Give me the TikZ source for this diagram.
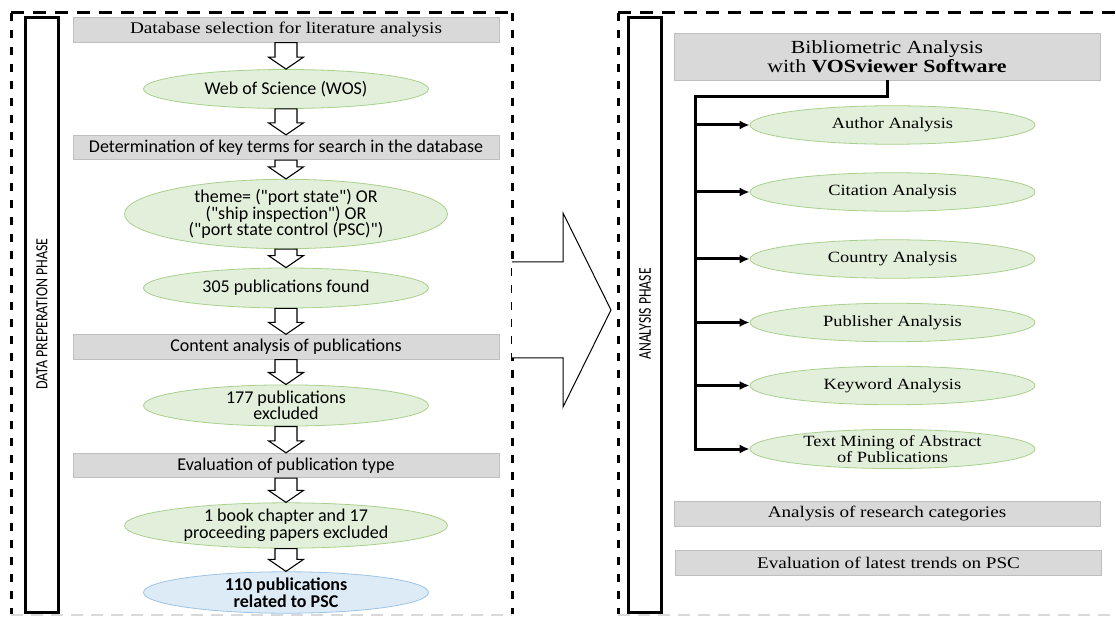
\documentclass[tikz,border=0pt]{standalone}
\usepackage{fontspec}
\setmainfont{Liberation Serif}
\newfontfamily\wideserif[FakeStretch=1.18]{Liberation Serif}
\newfontfamily\calibri{Carlito}
\usetikzlibrary{calc,arrows.meta,shapes.geometric}
\definecolor{boxfill}{HTML}{D9D9D9}
\definecolor{boxline}{HTML}{BFBFBF}
\definecolor{ellfill}{HTML}{E2EFDA}
\definecolor{ellline}{HTML}{A9D08E}
\definecolor{bluefill}{HTML}{DDEBF7}
\definecolor{blueline}{HTML}{9DC3E6}
\newcommand\blockarrow[2]{%
  \draw[blockarr] let \p1=(#1.south), \p2=(#2.north) in
    (\x1-11pt,\y1) -- (\x1+11pt,\y1) -- (\x1+11pt,\y2+12pt) -- (\x1+17.5pt,\y2+12pt)
    -- (\x1,\y2) -- (\x1-17.5pt,\y2+12pt) -- (\x1-11pt,\y2+12pt) -- cycle;}
\begin{document}
\begin{tikzpicture}[x=1pt,y=-1pt,
  graybox/.style={draw=boxline, fill=boxfill, line width=0.8pt, inner sep=0pt, align=center},
  lbox/.style={graybox, minimum width=426pt, minimum height=24.5pt},
  rbox/.style={graybox, minimum width=426pt, minimum height=25pt, font=\wideserif\fontsize{16.2}{18}\selectfont},
  lell/.style={ellipse, draw=ellline, fill=ellfill, line width=0.8pt, inner sep=0pt, align=center,
     font=\calibri\fontsize{18}{16.5}\selectfont},
  rell/.style={ellipse, draw=ellline, fill=ellfill, line width=0.8pt, inner sep=0pt, align=center,
     minimum width=285pt, minimum height=38.5pt, font=\wideserif\fontsize{15.6}{16.5}\selectfont},
  blockarr/.style={draw=black, fill=white, line width=1.1pt, line join=miter},
  hdash/.style={line width=3pt, dash pattern=on 13pt off 9pt},
  vdash/.style={line width=3pt, dash pattern=on 8pt off 9pt},
  bdash/.style={line width=2pt, draw=black!15, dash pattern=on 12pt off 8pt},
  phasebox/.style={draw=black, line width=3pt, fill=white},
  trunk/.style={draw=black, line width=3pt},
  branch/.style={draw=black, line width=3pt, -{Latex[length=10pt,width=9pt]}},
  bigarr/.style={draw=black, line width=1pt, fill=white, line join=miter}
]
\useasboundingbox (0,0) rectangle (1116,617);
% ---------- dashed panel frames ----------
\draw[hdash] (11,13) -- (512,13);
\draw[vdash] (11,13) -- (11,614);
\draw[vdash] (512,13) -- (512,614);
\draw[bdash] (11,614.5) -- (512,614.5);
\draw[hdash] (618,13) -- (1116,13);
\draw[vdash] (618,13) -- (618,614);
\draw[bdash] (618,614.5) -- (1116,614.5);
% ---------- big arrow between the panels ----------
\coordinate (pa1) at (512,262);
\coordinate (pa2) at (563,262);
\coordinate (pa3) at (563,213);
\coordinate (patip) at (611,310);
\coordinate (pa5) at (563,407);
\coordinate (pa6) at (563,358);
\coordinate (pa7) at (512,358);
\fill[white] (pa1) -- (pa2) -- (pa3) -- (patip) -- (pa5) -- (pa6) -- (pa7) -- cycle;
\draw[bigarr] (pa1) -- (pa2) -- (pa3) -- (patip) -- (pa5) -- (pa6) -- (pa7);
% ---------- phase label boxes ----------
\draw[phasebox] (25,18) rectangle (58,612);
\node[rotate=90] (lphase) at (42,314) {\scalebox{0.82}[1]{\calibri\fontsize{17}{17}\selectfont DATA PREPERATION PHASE}};
\draw[phasebox] (628,18) rectangle (661,612);
\node[rotate=90] (rphase) at (645,314) {\scalebox{0.76}[1]{\calibri\fontsize{18}{18}\selectfont ANALYSIS PHASE}};
% ---------- left panel ----------
\node[lbox, font=\wideserif\fontsize{16.3}{20}\selectfont] (db) at (286,30) {Database selection for literature analysis};
\node[lell, minimum width=285pt, minimum height=39pt] (wos) at (286,89) {Web of Science (WOS)};
\node[lbox, font=\calibri\fontsize{18}{18}\selectfont] (kt) at (286,147.5) {Determination of key terms for search in the database};
\node[lell, minimum width=323pt, minimum height=52pt] (theme) at (286,214) {theme= ("port state") OR\\("ship inspection") OR\\("port state control (PSC)")};
\node[lell, minimum width=285pt, minimum height=40pt] (found) at (286,288) {305 publications found};
\node[lbox, font=\calibri\fontsize{18}{18}\selectfont] (ca) at (286,347) {Content analysis of publications};
\node[lell, minimum width=285pt, minimum height=39pt] (exc) at (286,405.5) {177 publications\\excluded};
\node[lbox, font=\calibri\fontsize{18}{18}\selectfont] (ev) at (286,465.5) {Evaluation of publication type};
\node[lell, minimum width=323pt, minimum height=39pt] (book) at (286,525.5) {1 book chapter and 17\\proceeding papers excluded};
\node[lell, draw=blueline, fill=bluefill, minimum width=285pt, minimum height=39pt,
      font=\calibri\bfseries\fontsize{18}{16.5}\selectfont] (psc) at (286,592.5) {110 publications\\related to PSC};
\blockarrow{db}{wos}
\blockarrow{wos}{kt}
\blockarrow{kt}{theme}
\blockarrow{theme}{found}
\blockarrow{found}{ca}
\blockarrow{ca}{exc}
\blockarrow{exc}{ev}
\blockarrow{ev}{book}
\blockarrow{book}{psc}
% ---------- right panel ----------
\node[graybox, minimum width=426pt, minimum height=47pt, font=\wideserif\fontsize{18.5}{19}\selectfont] (bib) at (887,56.5)
  {Bibliometric Analysis\\with \textbf{VOSviewer Software}};
\node[rell] (au) at (892.5,125) {Author Analysis};
\node[rell] (ci) at (892.5,192) {Citation Analysis};
\node[rell] (co) at (892.5,259) {Country Analysis};
\node[rell] (pu) at (892.5,322.5) {Publisher Analysis};
\node[rell] (kw) at (892.5,385.5) {Keyword Analysis};
\node[rell] (tm) at (892.5,449) {Text Mining of Abstract\\of Publications};
\node[rbox] (rc) at (887,513.5) {Analysis of research categories};
\node[rbox] (lt) at (888.5,563) {Evaluation of latest trends on PSC};
\coordinate (spT) at (695,97);
\coordinate (spB) at (695,450.5);
\draw[trunk, line join=miter] (bib.south) |- (spT) -- (spB);
\foreach \e in {au,ci,co,pu,kw,tm}{
  \draw[branch] (spB |- \e.west) -- (\e.west);
}
\end{tikzpicture}
\end{document}
